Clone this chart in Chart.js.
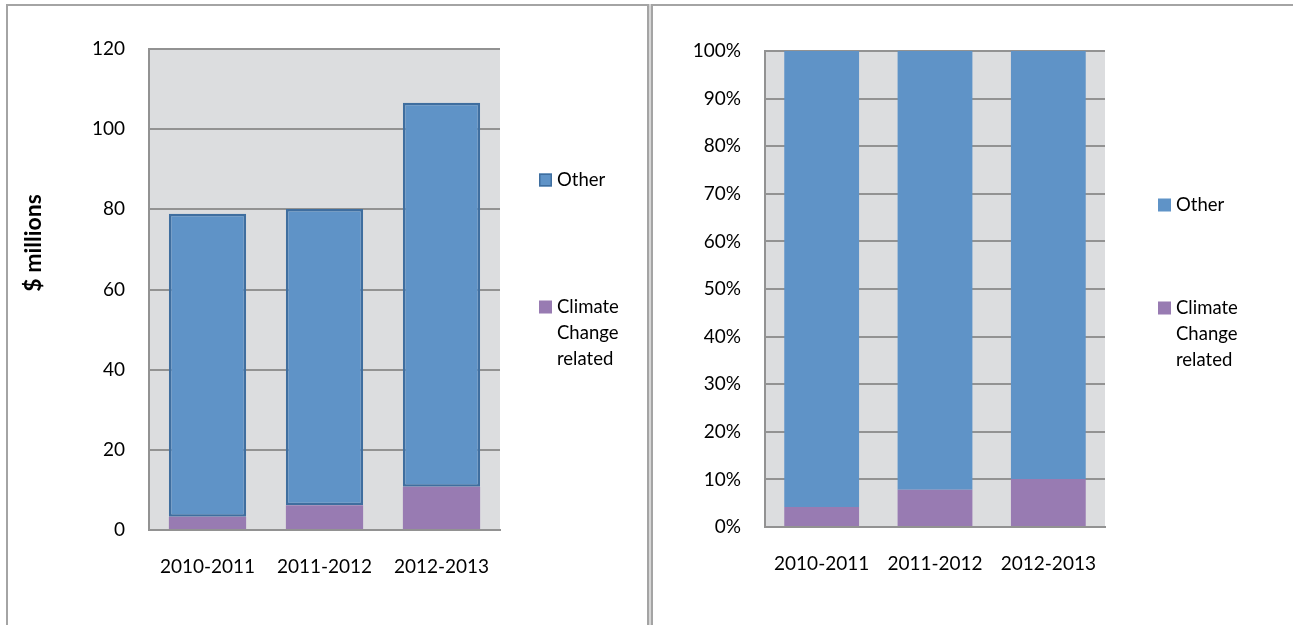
<!DOCTYPE html>
<html>
<head>
<meta charset="utf-8">
<script src="https://cdn.jsdelivr.net/npm/chart.js@4/dist/chart.umd.min.js"></script>
<style>
  html, body { margin: 0; padding: 0; background: #fff; }
  #wrap { position: relative; width: 1293px; height: 625px; overflow: hidden; }
  .panel { position: absolute; top: 4px; height: 660px; box-sizing: border-box;
           border: 2px solid #a4a4a4; border-bottom: none; }
  #panelLeft { left: 6px; width: 643px; }
  #panelRight { left: 651px; width: 700px; border-right: none; }
  #gap { position: absolute; left: 649px; top: 4px; width: 2px; height: 660px; background: #d6d6d6; }
  canvas { position: absolute; top: 0; }
  #amounts { left: 0; }
  #shares { left: 650px; }
</style>
</head>
<body>
<div id="wrap">
  <div class="panel" id="panelLeft"></div>
  <div id="gap"></div>
  <div class="panel" id="panelRight"></div>
  <canvas id="amounts" width="646" height="625"></canvas>
  <canvas id="shares" width="643" height="625"></canvas>
</div>
<script>
// Funding by year, $ millions
const years = ['2010-2011', '2011-2012', '2012-2013'];
const climateRelated = [3.3, 6.2, 10.8];
const otherFunding = [75.6, 73.9, 95.8];

// Share of yearly total, percent
const climateShare = [4.2, 7.8, 10.1];
const otherShare = [95.8, 92.2, 89.9];

const amountTicks = [0, 20, 40, 60, 80, 100, 120];
const shareTicks = [0, 10, 20, 30, 40, 50, 60, 70, 80, 90, 100];

const seriesNames = { climate: 'Climate Change related', other: 'Other' };

const BLUE = '#5f93c7';
const BLUE_EDGE = '#3f6e9f';
const PURPLE = '#987bb2';
const PLOT_BG = '#dcdddf';
const GRID = '#929292';
const FONT = 'Lato, "Open Sans", sans-serif';

Chart.defaults.font.family = FONT;
Chart.defaults.font.size = 19;
Chart.defaults.color = '#000';

// Plot background, side legend with wrapped labels, rotated axis title
const panelDecor = {
  id: 'panelDecor',
  beforeDraw(chart, args, opts) {
    const { ctx, chartArea: a } = chart;
    ctx.save();
    ctx.fillStyle = opts.plotBg;
    ctx.fillRect(a.left, a.top, a.right - a.left, a.bottom - a.top);
    ctx.restore();
  },
  afterDraw(chart, args, opts) {
    const { ctx, chartArea: a } = chart;
    ctx.save();
    ctx.font = '18.5px ' + FONT;
    ctx.textBaseline = 'middle';
    ctx.textAlign = 'left';
    const ds = chart.data.datasets;
    opts.items.forEach(item => {
      const d = ds[item.index];
      const sx = a.right + opts.boxOffset;
      const size = 13;
      ctx.fillStyle = d.backgroundColor;
      ctx.fillRect(sx, item.y - size / 2, size, size);
      if (opts.boxEdge && d.borderWidth) {
        ctx.strokeStyle = d.borderColor;
        ctx.lineWidth = 1.5;
        ctx.strokeRect(sx + 0.75, item.y - size / 2 + 0.75, size - 1.5, size - 1.5);
      }
      // wrap label into lines that fit the legend column
      const words = d.label.split(' ');
      const lines = [];
      let line = '';
      words.forEach(w => {
        const test = line ? line + ' ' + w : w;
        if (line && ctx.measureText(test).width > opts.maxWidth) { lines.push(line); line = w; }
        else line = test;
      });
      if (line) lines.push(line);
      ctx.fillStyle = '#000';
      lines.forEach((l, i) => ctx.fillText(l, a.right + opts.textOffset, item.y + i * 26));
    });
    if (opts.yTitle) {
      ctx.translate(opts.yTitle.x, opts.yTitle.y);
      ctx.rotate(-Math.PI / 2);
      ctx.textAlign = 'center';
      ctx.font = 'bold 23px ' + FONT;
      ctx.fillText(opts.yTitle.text, 0, 0);
    }
    ctx.restore();
  }
};

function baseScales(ticks, yWidth, xHeight, xPad, fmt) {
  return {
    x: {
      stacked: true,
      afterFit: s => { s.height = xHeight; },
      grid: { display: true, drawOnChartArea: false, drawTicks: false },
      border: { display: true, color: GRID, width: 2 },
      ticks: { padding: xPad, maxRotation: 0 }
    },
    y: {
      stacked: true,
      min: ticks[0],
      max: ticks[ticks.length - 1],
      afterFit: s => { s.width = yWidth; },
      afterBuildTicks: s => { s.ticks = ticks.map(v => ({ value: v })); },
      grid: { color: GRID, lineWidth: 2, drawTicks: false },
      border: { display: true, color: GRID, width: 2 },
      ticks: { padding: 24, callback: fmt }
    }
  };
}

new Chart(document.getElementById('amounts'), {
  type: 'bar',
  data: {
    labels: years,
    datasets: [
      { label: seriesNames.climate, data: climateRelated, backgroundColor: PURPLE,
        borderWidth: 0, barPercentage: 0.66, categoryPercentage: 1 },
      { label: seriesNames.other, data: otherFunding, backgroundColor: BLUE,
        borderColor: BLUE_EDGE, borderWidth: 2.5, borderSkipped: false,
        barPercentage: 0.66, categoryPercentage: 1 }
    ]
  },
  options: {
    responsive: false,
    animation: false,
    devicePixelRatio: 1,
    layout: { padding: { left: 0, top: 49, right: 146, bottom: 0 } },
    scales: baseScales(amountTicks, 149, 95, 25, v => v),
    plugins: {
      legend: { display: false },
      tooltip: { enabled: false },
      panelDecor: {
        plotBg: PLOT_BG,
        boxOffset: 39, textOffset: 57, maxWidth: 75, boxEdge: true,
        items: [{ index: 1, y: 180 }, { index: 0, y: 307 }],
        yTitle: { text: '$ millions', x: 34, y: 243 }
      }
    }
  },
  plugins: [panelDecor]
});

new Chart(document.getElementById('shares'), {
  type: 'bar',
  data: {
    labels: years,
    datasets: [
      { label: seriesNames.climate, data: climateShare, backgroundColor: PURPLE,
        borderWidth: 0, barPercentage: 0.66, categoryPercentage: 1 },
      { label: seriesNames.other, data: otherShare, backgroundColor: BLUE,
        borderWidth: 0, barPercentage: 0.66, categoryPercentage: 1 }
    ]
  },
  options: {
    responsive: false,
    animation: false,
    devicePixelRatio: 1,
    layout: { padding: { left: 0, top: 51, right: 188, bottom: 0 } },
    scales: baseScales(shareTicks, 115, 98, 25, v => v + '%'),
    plugins: {
      legend: { display: false },
      tooltip: { enabled: false },
      panelDecor: {
        plotBg: PLOT_BG,
        boxOffset: 53, textOffset: 71, maxWidth: 75, boxEdge: false,
        items: [{ index: 1, y: 205 }, { index: 0, y: 308 }]
      }
    }
  },
  plugins: [panelDecor]
});
</script>
</body>
</html>
